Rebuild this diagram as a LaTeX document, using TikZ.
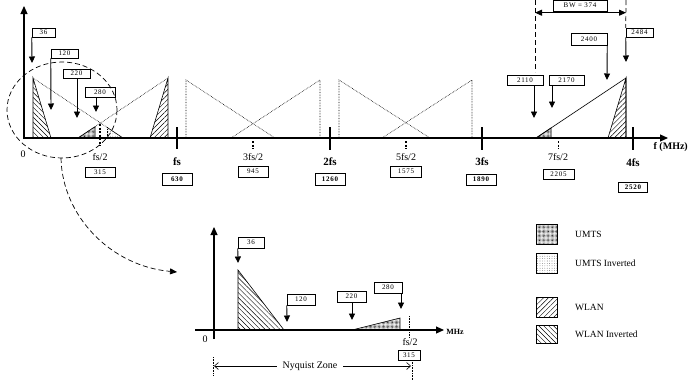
\documentclass[tikz,border=0pt]{standalone}
\usepackage{fontspec}
\setmainfont{Liberation Serif}
\newfontfamily\numfont[LetterSpace=10]{Liberation Serif}
\usetikzlibrary{arrows.meta,patterns,patterns.meta}
\begin{document}
\begin{tikzpicture}[x=1pt,y=-1pt,
  axis/.style={line width=1.1pt,-{Triangle[length=8pt,width=7pt]}},
  ar/.style={line width=0.9pt,-{Triangle[length=6.5pt,width=6pt]}},
  numbox/.style={draw,line width=0.5pt,inner sep=0pt,font=\fontsize{7}{7}\numfont},
  bnumbox/.style={draw,line width=0.9pt,inner sep=0pt,font=\fontsize{7}{7}\numfont\bfseries},
  lbl/.style={inner sep=0pt,font=\fontsize{10}{10}\selectfont},
  blbl/.style={inner sep=0pt,font=\fontsize{11}{11}\selectfont\bfseries},
  img/.style={densely dotted,line width=0.6pt},
  band/.style={line width=0.6pt},
  wlan/.style={pattern={Lines[angle=45,distance=3.5pt,line width=0.45pt]}},
  wlaninv/.style={pattern={Lines[angle=-45,distance=3.5pt,line width=0.45pt]}},
  umts/.style={pattern={Dots[distance=1.3pt,radius=0.4pt]}},
  umtsinv/.style={pattern={Dots[distance=2.4pt,radius=0.3pt]}},
  bigtick/.style={line width=2pt},
  dtick/.style={line width=1.3pt,dash pattern=on 2pt off 1.5pt},
  lgdash/.style={line width=0.7pt,dash pattern=on 5pt off 3pt},
  legbox/.style={draw,line width=0.5pt,minimum width=21pt,minimum height=19pt,inner sep=0pt},
  legtxt/.style={anchor=west,inner sep=0pt,font=\fontsize{9.5}{10}\selectfont},
]
\useasboundingbox (0,0) rectangle (688,381);

% ---------------- top spectrum ----------------
\draw[img] (33,78) -- (107,127.3);
\draw[img] (78,138) -- (95,126.7);
\draw[img] (95,126.7) -- (168,78);
\draw[img] (186,138) -- (186,80) -- (275,138);
\draw[img] (231,138) -- (320,80) -- (320,138);
\draw[img] (339,138) -- (339,80) -- (430,138);
\draw[img] (382,138) -- (472,80) -- (472,138);

\draw[band,wlaninv] (33,138) -- (33,78) -- (51,138) -- cycle;
\draw[band,umtsinv,draw=none] (107,138) -- (107,127.3) -- (123,138) -- cycle;
\draw[img] (107,127.3) -- (107,138);
\draw[band] (107,127.3) -- (123,138);
\draw[band,umts] (78,138) -- (95,126.7) -- (95,138) -- cycle;
\draw[band,wlan] (150,138) -- (168,78) -- (168,138) -- cycle;

\draw[band] (536,138) -- (626,78) -- (626,138);
\draw[band,umts] (536,138) -- (551,128) -- (551,138) -- cycle;
\draw[band,wlan] (608,138) -- (626,78) -- (626,138) -- cycle;

% axes
\draw[axis] (24,139) -- (24,6);
\draw[axis] (24,138) -- (668,138);
\node[inner sep=0pt,anchor=east,font=\fontsize{10}{10}\selectfont\bfseries] (fmhz) at (688,147) {f (MHz)};
\node[lbl] (zero) at (23,154) {0};

% ticks
\draw[dtick,line width=1.5pt] (100,124) -- (100,146);
\draw[dtick] (253,141) -- (253,149);
\draw[dtick] (406,141) -- (406,149);
\draw[dtick] (558.5,141) -- (558.5,149);
\draw[bigtick] (177,127) -- (177,149);
\draw[bigtick] (330,127) -- (330,150);
\draw[bigtick] (482,127) -- (482,150);
\draw[bigtick] (633,127) -- (633,150);

% tick labels
\node[lbl] (lhalf) at (100,157.5) {fs/2};
\node[numbox,minimum width=30pt,minimum height=10pt] (n315) at (100,172) {315};
\node[blbl] (lfs) at (177,162) {fs};
\node[bnumbox,minimum width=30pt,minimum height=12pt] (n630) at (177,179) {630};
\node[lbl] (l3half) at (253,157.5) {3fs/2};
\node[numbox,minimum width=30pt,minimum height=11pt] (n945) at (253,171.5) {945};
\node[blbl] (l2fs) at (330,162) {2fs};
\node[bnumbox,minimum width=30pt,minimum height=12pt] (n1260) at (330,179) {1260};
\node[lbl] (l5half) at (406,157.5) {5fs/2};
\node[numbox,minimum width=31pt,minimum height=11pt] (n1575) at (406,171.5) {1575};
\node[blbl] (l3fs) at (482,162) {3fs};
\node[bnumbox,minimum width=30pt,minimum height=11pt] (n1890) at (481,179.5) {1890};
\node[lbl] (l7half) at (558,157.5) {7fs/2};
\node[numbox,minimum width=31pt,minimum height=10pt] (n2205) at (558.5,174.5) {2205};
\node[blbl] (l4fs) at (633,163) {4fs};
\node[bnumbox,minimum width=29pt,minimum height=10pt] (n2520) at (633,187) {2520};

% frequency markers, left
\node[numbox,minimum width=23pt,minimum height=9pt] (b36) at (43.5,32.5) {36};
\coordinate (t36) at (32,63);
\draw[ar] (b36.south west) -- (t36);
\node[numbox,minimum width=27pt,minimum height=9pt] (b120) at (64.5,53.5) {120};
\coordinate (t120) at (51,110);
\draw[ar] (b120.south west) -- (t120);
\node[numbox,minimum width=27pt,minimum height=9pt] (b220) at (76.5,73.5) {220};
\coordinate (t220) at (77,118);
\draw[ar] (b220.south -| t220) -- (t220);
\node[numbox,minimum width=30pt,minimum height=10pt] (b280) at (100,92) {280};
\coordinate (t280) at (96,112);
\draw[ar] (b280.south -| t280) -- (t280);

% frequency markers, right
\node[numbox,minimum width=54pt,minimum height=11pt,font=\fontsize{7}{7}\numfont] (bw) at (580,5.5) {BW = 374};
\coordinate (bwl) at (535,0);
\coordinate (bwr) at (626,0);
\coordinate (bwlb) at (535,72);
\draw[lgdash] (bwl) -- (bwlb);
\node[numbox,minimum width=27pt,minimum height=9pt] (b2484) at (639.5,32.5) {2484};
\draw[lgdash] (bwr) -- (b2484.north west);
\coordinate (al) at (535,12.7);
\coordinate (arr) at (626,12.7);
\draw[line width=0.9pt,{Triangle[length=7pt,width=6pt]}-{Triangle[length=7pt,width=6pt]}] (al) -- (arr);
\coordinate (t2484) at (626,62);
\draw[ar] (b2484.south west) -- (t2484);
\node[numbox,minimum width=36pt,minimum height=12pt] (b2400) at (589,39) {2400};
\coordinate (t2400) at (607,80);
\draw[ar] (b2400.south east) -- (t2400);
\node[numbox,minimum width=36pt,minimum height=10pt] (b2110) at (525,80) {2110};
\coordinate (t2110) at (534,118);
\draw[ar] (b2110.south -| t2110) -- (t2110);
\node[numbox,minimum width=35pt,minimum height=10pt] (b2170) at (566.5,80) {2170};
\coordinate (t2170) at (552,108);
\draw[ar] (b2170.south -| t2170) -- (t2170);

% zoom ellipse and curved arrow
\draw[lgdash] (62,110) ellipse [x radius=55, y radius=48];
\coordinate (cs) at (61,158);
\coordinate (ce) at (177,272);
\draw[lgdash,-{Triangle[length=7pt,width=6pt]}]
  (cs) .. controls (62,215) and (110,266) .. (ce);

% ---------------- bottom (Nyquist zone) ----------------
\draw[band,wlaninv] (238,330) -- (238,270) -- (284,330) -- cycle;
\draw[band,umts] (352,330) -- (400,318) -- (400,330) -- cycle;
\draw[img] (409,316) -- (409,337);
\draw[axis] (214,339) -- (214,227);
\draw[axis] (195,330) -- (444,330);
\node[inner sep=0pt,font=\fontsize{8}{8}\selectfont\bfseries] (mhz) at (455,332) {MHz};
\node[lbl] (zero2) at (205,339) {0};
\node[lbl,fill=white,inner sep=0.5pt] (half2) at (410,342) {fs/2};
\node[numbox,minimum width=22pt,minimum height=10pt] (c315) at (409,355) {315};

\node[numbox,minimum width=26pt,minimum height=11pt] (c36) at (251,242.5) {36};
\coordinate (s36) at (238,263);
\draw[ar] (c36.south west) -- (s36);
\node[numbox,minimum width=28pt,minimum height=11pt] (c120) at (301,299.5) {120};
\coordinate (s120) at (287,322);
\draw[ar] (c120.south west) -- (s120);
\node[numbox,minimum width=29pt,minimum height=11pt] (c220) at (351.5,296.5) {220};
\coordinate (s220) at (352,320);
\draw[ar] (c220.south -| s220) -- (s220);
\node[numbox,minimum width=28pt,minimum height=11pt] (c280) at (388,287.5) {280};
\coordinate (s280) at (401,309);
\draw[ar] (c280.south -| s280) -- (s280);

% Nyquist zone
\coordinate (nzl1) at (213,357);
\coordinate (nzl2) at (213,375);
\coordinate (nzr2) at (412,381);
\draw[img] (nzl1) -- (nzl2);
\draw[img] (c315.south -| nzr2) -- (nzr2);
\coordinate (nal) at (214,366);
\coordinate (nar) at (411,366);
\draw[line width=0.6pt,{Straight Barb[length=4pt,width=7pt]}-{Straight Barb[length=4pt,width=7pt]}] (nal) -- (nar);
\node[fill=white,inner xsep=6pt,inner ysep=1pt,font=\fontsize{10}{10}\selectfont] (nz) at (310,366) {Nyquist Zone};

% ---------------- legend ----------------
\node[legbox,umts,minimum height=20pt] (k1) at (546.5,234) {};
\node[legtxt] (k1t) at (575,234) {UMTS};
\node[legbox,umtsinv,minimum height=20pt] (k2) at (546.5,263) {};
\node[legtxt] (k2t) at (575,263) {UMTS Inverted};
\node[legbox,wlan,minimum height=20pt] (k3) at (546.5,307) {};
\node[legtxt] (k3t) at (575,307) {WLAN};
\node[legbox,wlaninv,minimum height=18pt] (k4) at (546.5,334) {};
\node[legtxt] (k4t) at (575,334) {WLAN Inverted};
\end{tikzpicture}
\end{document}
